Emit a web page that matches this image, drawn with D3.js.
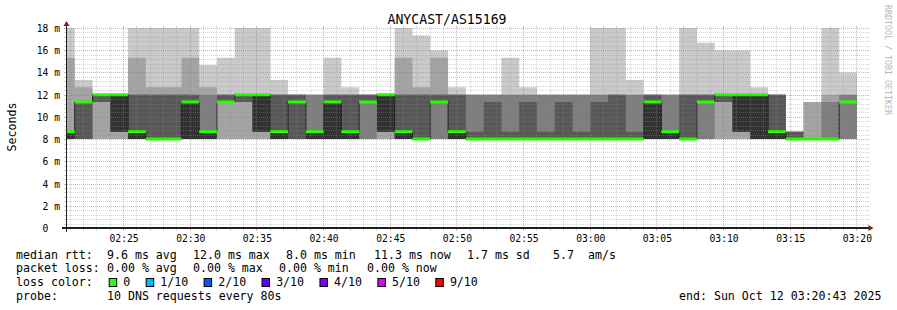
<!DOCTYPE html>
<html lang="en">
<head>
<meta charset="UTF-8">
<title>ANYCAST/AS15169</title>
<script src="https://d3js.org/d3.v7.min.js"></script>
<style>
    body { margin: 0; background: #fff; }
    svg text { font-family: "DejaVu Sans Mono", monospace; white-space: pre; fill: #000; }
</style>
</head>
<body>
<svg width="897" height="310"></svg>
<script>
    // rrd step end times (80 s step)
    const stepEnds = [
        "02:21:20", "02:22:40", "02:24:00", "02:25:20", "02:26:40", "02:28:00", "02:29:20", "02:30:40", "02:32:00",
        "02:33:20", "02:34:40", "02:36:00", "02:37:20", "02:38:40", "02:40:00", "02:41:20", "02:42:40", "02:44:00",
        "02:45:20", "02:46:40", "02:48:00", "02:49:20", "02:50:40", "02:52:00", "02:53:20", "02:54:40", "02:56:00",
        "02:57:20", "02:58:40", "03:00:00", "03:01:20", "03:02:40", "03:04:00", "03:05:20", "03:06:40", "03:08:00",
        "03:09:20", "03:10:40", "03:12:00", "03:13:20", "03:14:40", "03:16:00", "03:17:20", "03:18:40", "03:20:00"];

    // the 10 sorted ping times per step, in ms (p1 lowest .. p10 highest)
    const p1 = [8, 8, 8, 8, 8, 8, 8, 8, 8, 8, 8, 8, 8, 8, 8, 8, 8, 8, 8, 8, 8, 8, 8, 8, 8, 8, 8, 8, 8, 8, 8, 8, 8, 8, 8, 8, 8, 8, 8, 8, 8, 8, 8, 8, 8];
    const p2 = [8, 8, 8, 8, 8, 8, 8, 8, 8, 8, 8, 8, 8, 8, 8, 8, 8, 8, 8, 8, 8, 8, 8, 8, 8, 8, 8, 8, 8, 8, 8, 8, 8, 8, 8, 8, 8, 8, 8, 8, 8, 8, 8, 8, 8];
    const p3 = [8, 8, 11.33, 8.67, 8, 8, 8, 8, 8, 11.33, 11.33, 8.67, 8, 8, 8,
                8, 8, 8, 8.67, 8, 8, 8, 8, 8, 8, 8, 8, 8, 8, 8,
                8, 8, 8, 8, 8, 8, 8, 11.33, 8.67, 8, 8, 8, 8, 8, 8];
    const p4 = [8, 8, 11.33, 8.67, 8, 8, 8, 8, 8, 11.33, 11.33, 8.67, 8, 8, 8,
                8, 8, 11.33, 8.67, 8, 8, 11.33, 8, 8, 8, 8, 8, 8, 8, 8,
                8, 8, 8, 8, 8, 8, 11.33, 11.33, 8.67, 8, 8, 8, 8, 8, 11.33];
    const p5 = [8, 11.33, 12, 8.67, 8, 8, 8, 8, 8, 11.33, 12, 8.67, 8, 11.33, 8,
                8, 8, 11.33, 8.67, 8, 8, 11.33, 8, 8, 8, 8, 8, 8, 8, 8,
                8, 8, 8, 8, 8, 8, 11.33, 12, 8.67, 8, 8, 8, 8, 8, 11.33];
    const p6 = [8.67, 11.33, 12, 12, 8.67, 8, 8, 11.33, 8.67, 11.33, 12, 12, 8.67, 11.33, 8.67,
                11.33, 8.67, 11.33, 12, 8.67, 8, 11.33, 8.67, 8, 8, 8, 8, 8, 8, 8,
                8, 8, 8, 11.33, 8.67, 8, 11.33, 12, 12, 12, 8.67, 8, 8, 8, 11.33];
    const p7 = [8.67, 11.33, 12, 12, 12, 12, 12, 12, 8.67, 12, 12, 12, 12, 12, 8.67,
                12, 12, 12, 12, 12, 12, 12, 12, 8.67, 11.33, 8.67, 11.33, 8.67, 11.33, 8.67,
                11.33, 12, 8.67, 12, 8.67, 12, 12, 12, 12, 12, 12, 8.67, 8, 8, 11.33];
    const p8 = [8.67, 11.33, 12, 12, 12, 12, 12, 12, 12, 12, 12, 12, 12, 12, 12,
                12, 12, 12, 12, 12, 12, 12, 12, 12, 12, 12, 12, 12, 12, 12,
                12, 12, 12, 12, 12, 12, 12, 12, 12, 12, 12, 8.67, 8, 11.33, 12];
    const p9 = [15.33, 12.67, 12, 12, 15.33, 12.67, 12.67, 15.33, 12.67, 12, 12, 12, 12, 12, 12,
                12, 12, 12, 12, 15.33, 12.67, 15.33, 12, 12, 12, 12, 12, 12, 12, 12,
                12, 12, 12, 12, 12, 12, 12, 12, 12, 12, 12, 8.67, 11.33, 12, 12];
    const p10 = [18, 13.33, 12, 12, 18, 18, 18, 18, 14.67, 15.33, 18, 18, 13.33, 12, 12,
                 15.33, 12.67, 12, 12, 18, 17.33, 16, 12.67, 12, 12, 15.33, 12.67, 12, 12, 12,
                 18, 18, 13.33, 12, 12, 18, 16.67, 16, 16, 12.67, 12, 8.67, 11.33, 18, 14];
    // median rtt per step (green line)
    const median = [8.67, 11.33, 12, 12, 8.67, 8, 8, 11.33, 8.67, 11.33, 12, 12, 8.67, 11.33, 8.67,
                    11.33, 8.67, 11.33, 12, 8.67, 8, 11.33, 8.67, 8, 8, 8, 8, 8, 8, 8,
                    8, 8, 8, 11.33, 8.67, 8, 11.33, 12, 12, 12, 8.67, 8, 8, 8, 11.33];

    const yTicks = [0, 2, 4, 6, 8, 10, 12, 14, 16, 18];
    const xTicks = ["02:25", "02:30", "02:35", "02:40", "02:45", "02:50", "02:55", "03:00", "03:05", "03:10", "03:15", "03:20"];

    const title = "ANYCAST/AS15169";
    const rttStats = ["9.6 ms avg", "12.0 ms max", "8.0 ms min", "11.3 ms now", "1.7 ms sd", "5.7", "am/s"];
    const lossStats = ["0.00 % avg", "0.00 % max", "0.00 % min", "0.00 % now"];
    const lossLabels = ["0", "1/10", "2/10", "3/10", "4/10", "5/10", "9/10"];
    const lossColors = ["#26ff00", "#00b8ff", "#0059ff", "#5e00ff", "#7e00ff", "#dd00ff", "#ff0000"];
    const probeText = "10 DNS requests every 80s";
    const endText = "end: Sun Oct 12 03:20:43 2025";

    // layout
    const rttX = [107, 193, 286, 374, 467, 553, 588];
    const lossX = [107, 193, 279, 367];
    const lineY = [258.5, 272.3, 286.1, 300];
    const smokeGrays = ["#cacaca", "#a4a4a4", "#7e7e7e", "#585858", "#323232"];

    const svg = d3.select("svg");
    const parseT = d3.timeParse("%Y-%m-%d %H:%M:%S");
    const day = "2025-10-12 ";
    const tStart = parseT(day + "02:20:43"), tEnd = parseT(day + "03:20:43");

    const x = d3.scaleTime().domain([tStart, tEnd]).range([66.5, 866.5]).clamp(true);
    const y = d3.scaleLinear().domain([0, 18]).range([228, 28]);

    const ranks = [p1, p2, p3, p4, p5, p6, p7, p8, p9, p10];
    const cols = stepEnds.map(function (s, i) {
        const end = parseT(day + s);
        return {start: new Date(+end - 80000), end: end, v: ranks.map(r => r[i]), med: median[i]};
    });
    const pts = cols.map(c => ({t: c.start, v: c.v, med: c.med}));
    const last = cols[cols.length - 1];
    pts.push({t: last.end, v: last.v, med: last.med});

    svg.append("rect").attr("width", 897).attr("height", 310).attr("fill", "#fff");

    // smoke
    const gSmoke = svg.append("g");
    smokeGrays.forEach(function (col, i) {
        const area = d3.area()
            .x(d => x(d.t))
            .y0(d => y(d.v[i]))
            .y1(d => y(d.v[9 - i]))
            .curve(d3.curveStepAfter);
        gSmoke.append("path").attr("d", area(pts)).attr("fill", col);
    });

    // median
    const medLine = d3.line().x(d => x(d.t)).y(d => y(d.med)).curve(d3.curveStepAfter);
    svg.append("path").attr("d", medLine(pts)).attr("fill", "none")
        .attr("stroke", "#202020").attr("stroke-width", 1);
    const medBand = d3.area().x(d => x(d.t))
        .y0(d => y(d.med) + 1.5).y1(d => y(d.med) - 1.5)
        .curve(d3.curveStepAfter);
    svg.append("path").attr("d", medBand(pts)).attr("fill", lossColors[0]);

    // grid
    const gGrid = svg.append("g");
    const minorY = d3.range(1, 45).filter(k => k % 5 !== 0).map(k => k * 0.4);
    const majorY = yTicks.filter(v => v > 0);
    const xTickDates = xTicks.map(s => parseT(day + s + ":00"));
    const minorX = d3.timeMinute.range(tStart, tEnd).filter(t => t.getMinutes() % 5 !== 0);

    function hGrid(vals, color, op) {
        vals.forEach(function (v) {
            const yy = Math.round(y(v)) + 0.5;
            gGrid.append("line").attr("x1", 67).attr("x2", 867).attr("y1", yy).attr("y2", yy)
                .attr("stroke", color).attr("stroke-opacity", op).attr("stroke-dasharray", "1,1");
            gGrid.append("line").attr("x1", 64).attr("x2", 66).attr("y1", yy).attr("y2", yy)
                .attr("stroke", color).attr("stroke-opacity", op);
            gGrid.append("line").attr("x1", 867).attr("x2", 869).attr("y1", yy).attr("y2", yy)
                .attr("stroke", color).attr("stroke-opacity", op);
        });
    }
    function vGrid(vals, color, op) {
        vals.forEach(function (t) {
            const xx = Math.floor(x(t)) + 0.5;
            gGrid.append("line").attr("x1", xx).attr("x2", xx).attr("y1", 228).attr("y2", 28)
                .attr("stroke", color).attr("stroke-opacity", op).attr("stroke-dasharray", "1,1");
            gGrid.append("line").attr("x1", xx).attr("x2", xx).attr("y1", 228).attr("y2", 231)
                .attr("stroke", color).attr("stroke-opacity", op);
            gGrid.append("line").attr("x1", xx).attr("x2", xx).attr("y1", 26).attr("y2", 28)
                .attr("stroke", color).attr("stroke-opacity", op);
        });
    }
    hGrid(minorY, "#8f8f8f", 0.38);
    vGrid(minorX, "#8f8f8f", 0.38);
    hGrid(majorY, "#de5050", 0.5);
    vGrid(xTickDates, "#de5050", 0.5);

    // axes lines + arrows
    svg.append("line").attr("x1", 62).attr("x2", 871).attr("y1", 228).attr("y2", 228)
        .attr("stroke", "#1f1f1f").attr("stroke-width", 2);
    svg.append("line").attr("x1", 66.5).attr("x2", 66.5).attr("y1", 232).attr("y2", 24)
        .attr("stroke", "#1f1f1f").attr("stroke-width", 1);
    svg.append("path").attr("d", "M868.5,225L868.5,231L873.5,228Z").attr("fill", "#801f1f");
    svg.append("path").attr("d", "M63.5,26L69.5,26L66.5,21Z").attr("fill", "#801f1f");

    // axis labels
    const yAxis = d3.axisLeft(y).tickValues(yTicks).tickSize(0).tickPadding(0)
        .tickFormat(v => v === 0 ? "0  " : v + " m");
    svg.append("g").attr("transform", "translate(60,0)").call(yAxis)
        .call(g => g.select(".domain").remove())
        .call(g => g.selectAll("text").attr("font-size", "9.7px").attr("font-family", null).attr("dy", "0.36em"));

    const xAxis = d3.axisBottom(x).tickValues(xTickDates).tickSize(0).tickPadding(7)
        .tickFormat(d3.timeFormat("%H:%M"));
    svg.append("g").attr("transform", "translate(0,228)").call(xAxis)
        .call(g => g.select(".domain").remove())
        .call(g => g.selectAll("text").attr("font-size", "9.7px").attr("font-family", null));

    // title
    svg.append("text").attr("x", 447).attr("y", 24.3).attr("text-anchor", "middle")
        .attr("font-size", "13.2px").text(title);

    svg.append("text").attr("transform", "translate(16,127) rotate(-90)").attr("text-anchor", "middle")
        .attr("font-size", "11.6px").text("Seconds");

    svg.append("text").attr("transform", "translate(885,60) rotate(90)").attr("text-anchor", "middle")
        .attr("font-size", "8.3px").style("fill", "#b8b8b8").text("RRDTOOL / TOBI OETIKER");

    // legend
    const lg = svg.append("g").attr("font-size", "11.6px");
    lg.append("text").attr("x", 16).attr("y", lineY[0]).text("median rtt:");
    rttStats.forEach((s, i) => lg.append("text").attr("x", rttX[i]).attr("y", lineY[0]).text(s));
    lg.append("text").attr("x", 16).attr("y", lineY[1]).text("packet loss:");
    lossStats.forEach((s, i) => lg.append("text").attr("x", lossX[i]).attr("y", lineY[1]).text(s));
    lg.append("text").attr("x", 16).attr("y", lineY[2]).text("loss color:");
    let lx = 108.7;
    lossLabels.forEach(function (s, i) {
        lg.append("rect").attr("x", lx + 0.5).attr("y", 278.5).attr("width", 7.5).attr("height", 8)
            .attr("fill", lossColors[i]).attr("stroke", "#000").attr("stroke-width", 1);
        const t = lg.append("text").attr("x", lx + 14.6).attr("y", lineY[2]).text(s);
        lx += 14.6 + t.node().getComputedTextLength() + 15.4;
    });
    lg.append("text").attr("x", 16).attr("y", lineY[3]).text("probe:");
    lg.append("text").attr("x", 107).attr("y", lineY[3]).text(probeText);
    lg.append("text").attr("x", 679).attr("y", lineY[3]).text(endText);
</script>
</body>
</html>
